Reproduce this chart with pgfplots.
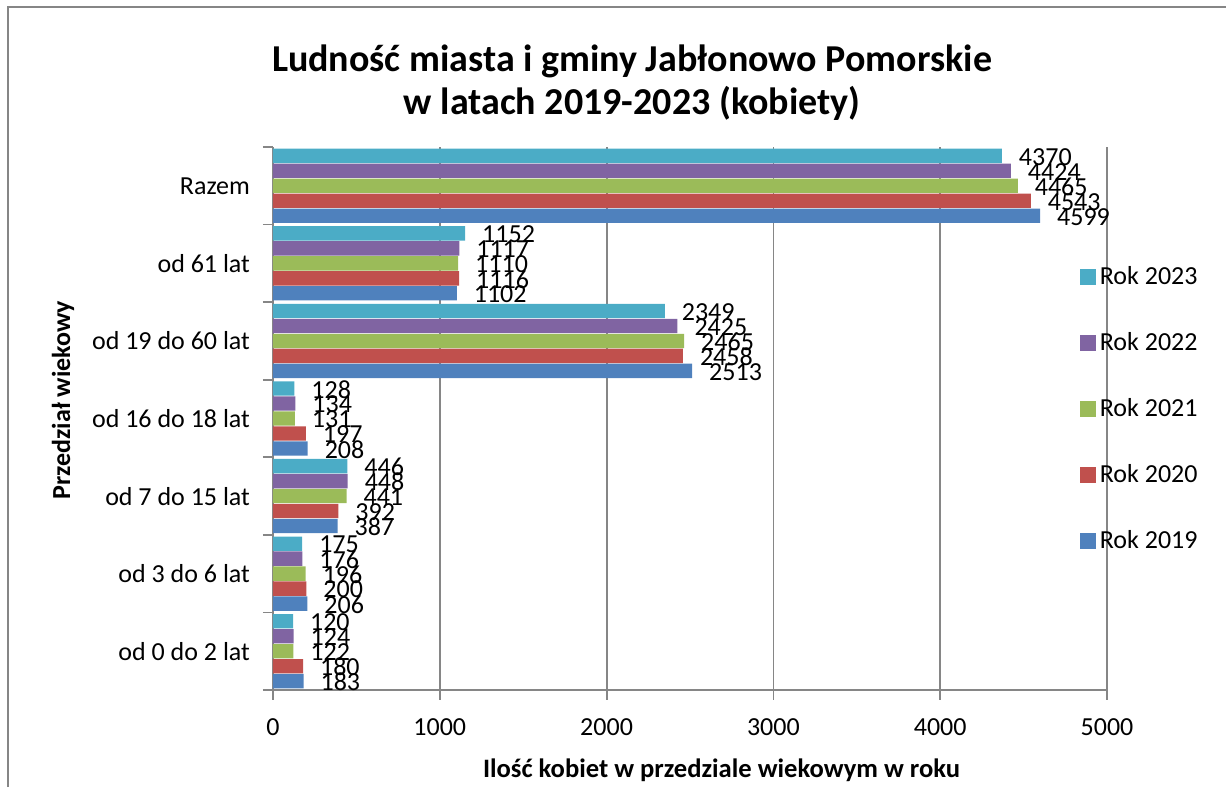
\documentclass[border=0pt]{standalone}
\usepackage{pgfplots}
\pgfplotsset{compat=1.18}
\usepackage{pgfplotstable}
\usepackage{fontspec}
\setmainfont{Carlito}
\definecolor{cA}{HTML}{4F81BD}
\definecolor{cB}{HTML}{C0504D}
\definecolor{cC}{HTML}{9BBB59}
\definecolor{cD}{HTML}{8064A2}
\definecolor{cE}{HTML}{4BACC6}
\definecolor{axgray}{HTML}{868686}
\pgfplotstableread{
y r2019 r2020 r2021 r2022 r2023
0 183 180 122 124 120
1 206 200 196 176 175
2 387 392 441 448 446
3 208 197 131 134 128
4 2513 2458 2465 2425 2349
5 1102 1116 1110 1117 1152
6 4599 4543 4465 4424 4370
}\data
\begin{document}
\begin{tikzpicture}
\useasboundingbox (0,0) rectangle (613pt,393.5pt);
\draw[axgray, line width=0.9pt] (4pt,0) -- (4pt,390pt) -- (613pt,390pt);
\node[align=center, font=\bfseries\fontsize{19}{21.5}\selectfont] at (316pt,352.3pt)
  {Ludność miasta i gminy Jabłonowo Pomorskie\\w latach 2019-2023 (kobiety)};
\node[font=\bfseries\fontsize{13.3}{15}\selectfont] at (360.75pt,8.5pt) {Ilość kobiet w przedziale wiekowym w roku};
\node[rotate=90, font=\bfseries\fontsize{13}{15}\selectfont] at (31.5pt,193.5pt) {Przedział wiekowy};
\begin{axis}[
  at={(136.5pt,48.5pt)}, anchor=south west,
  scale only axis, width=417pt, height=271.5pt,
  xbar, bar width=0.185,
  xmin=0, xmax=5000, ymin=-0.5, ymax=6.5,
  xtick={0,1000,...,5000},
  minor xtick={0,1000,...,5000},
  ytick={0,...,6},
  yticklabels={od 0 do 2 lat, od 3 do 6 lat, od 7 do 15 lat, od 16 do 18 lat, od 19 do 60 lat, od 61 lat, Razem},
  minor ytick={-0.5,0.5,...,6.5},
  axis x line*=bottom, axis y line*=left,
  axis line style={axgray, line width=0.9pt},
  tick align=outside,
  major tick length=5pt, minor tick length=5pt,
  major tick style={draw=none},
  minor tick style={axgray, line width=0.9pt},
  xmajorgrids, major grid style={axgray, line width=0.9pt},
  scaled x ticks=false,
  /pgf/number format/1000 sep={},
  /pgf/number format/assume math mode=true,
  tick label style={font=\fontsize{13}{15}\selectfont},
  yticklabel style={xshift=-3pt},
  xticklabel style={yshift=-6pt},
  point meta=x,
  nodes near coords,
  every node near coord/.append style={font=\fontsize{13}{15}\selectfont, anchor=west, xshift=5pt, yshift=-0.5pt, text=black},
  reverse legend,
  legend cell align=left,
  legend image code/.code={\fill[#1,draw=none] (0pt,-4pt) rectangle (8pt,4pt);},
  legend style={at={(0.967,0.5175)}, anchor=west, draw=none, fill=none,
    font=\fontsize{13}{15}\selectfont, row sep=18.5pt, inner sep=0pt},
]
\addplot[fill=cA, draw=none, bar shift=-0.386] table[x=r2019,y=y]{\data};
\addplot[fill=cB, draw=none, bar shift=-0.193] table[x=r2020,y=y]{\data};
\addplot[fill=cC, draw=none, bar shift=0] table[x=r2021,y=y]{\data};
\addplot[fill=cD, draw=none, bar shift=0.193] table[x=r2022,y=y]{\data};
\addplot[fill=cE, draw=none, bar shift=0.386] table[x=r2023,y=y]{\data};
\legend{Rok 2019, Rok 2020, Rok 2021, Rok 2022, Rok 2023}
\end{axis}
\end{tikzpicture}
\end{document}
